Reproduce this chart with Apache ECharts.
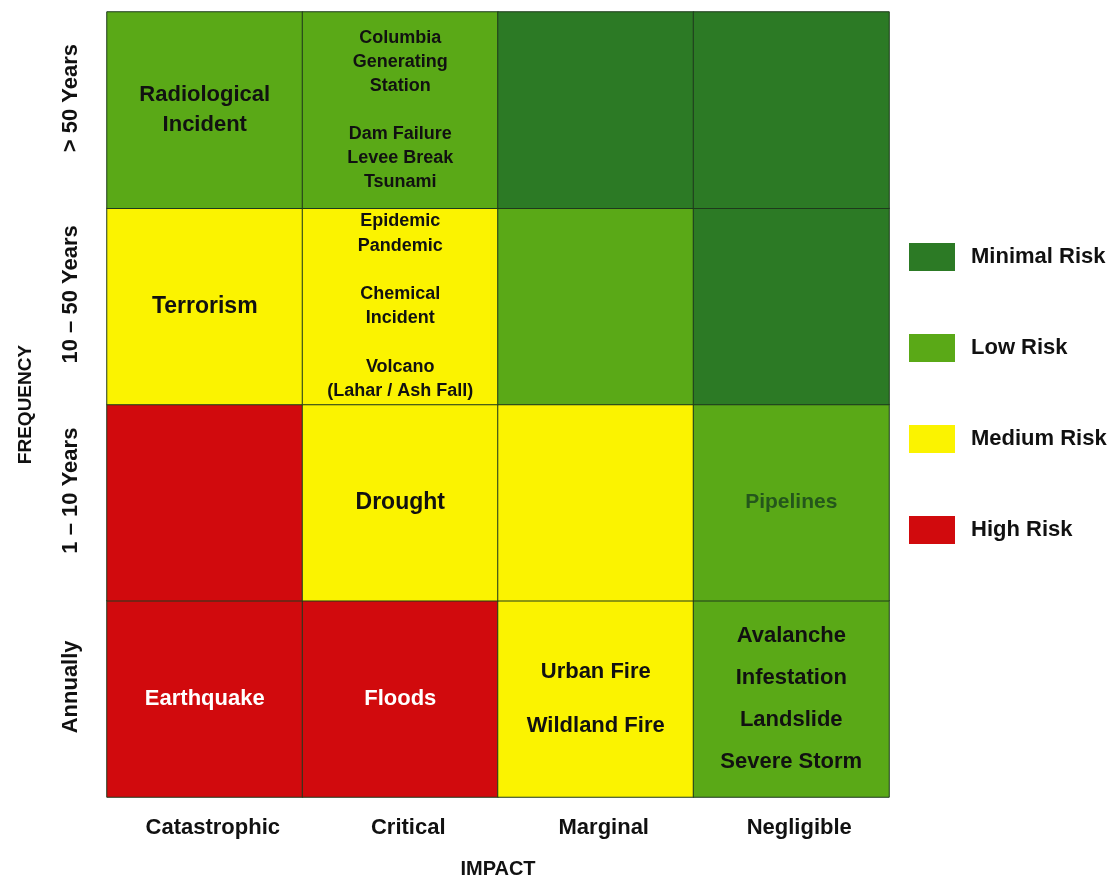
<!DOCTYPE html>
<html>
<head>
<meta charset="utf-8">
<script src="https://cdn.jsdelivr.net/npm/echarts@6/dist/echarts.min.js"></script>
<style>
html,body{margin:0;padding:0;background:#fff;}
#chart{width:1120px;height:878px;}
</style>
</head>
<body>
<div id="chart"></div>
<script>
// ---- Data ----
const impacts = ['Catastrophic', 'Critical', 'Marginal', 'Negligible'];
const frequencies = ['Annually', '1 – 10 Years', '10 – 50 Years', '> 50 Years'];
const riskLevels = ['Minimal Risk', 'Low Risk', 'Medium Risk', 'High Risk'];
const riskColors = ['#2c7a25', '#5aa917', '#fbf300', '#d10a0d'];

// risk level index per impact column, one array per frequency row
const riskAnnually = [3, 3, 2, 1];
const risk1to10 = [3, 2, 2, 1];
const risk10to50 = [2, 2, 1, 0];
const risk50plus = [1, 1, 0, 0];

const textAnnually = ['Earthquake', 'Floods', 'Urban Fire\nWildland Fire', 'Avalanche\nInfestation\nLandslide\nSevere Storm'];
const text1to10 = ['', 'Drought', '', 'Pipelines'];
const text10to50 = ['Terrorism', 'Epidemic\nPandemic\n\nChemical\nIncident\n\nVolcano\n(Lahar / Ash Fall)', '', ''];
const text50plus = ['Radiological\nIncident', 'Columbia\nGenerating\nStation\n\nDam Failure\nLevee Break\nTsunami', '', ''];

// ---- Styles (not data) ----
const FONT = 'Liberation Sans';
const cellStyles = {
  '0,0': {fontSize: 22, color: '#ffffff'},
  '1,0': {fontSize: 22, color: '#ffffff'},
  '2,0': {fontSize: 22, lineHeight: 54, color: '#111'},
  '3,0': {fontSize: 22, lineHeight: 42, color: '#111'},
  '1,1': {fontSize: 23, color: '#111'},
  '3,1': {fontSize: 21, color: '#24561c'},
  '0,2': {fontSize: 23, color: '#111'},
  '1,2': {fontSize: 18, lineHeight: 24.3, color: '#111', padding: [4, 0, 0, 0]},
  '0,3': {fontSize: 22, lineHeight: 30, color: '#111', padding: [6, 0, 0, 0]},
  '1,3': {fontSize: 18, lineHeight: 24, color: '#111', padding: [4, 0, 0, 0]}
};

const riskRows = [riskAnnually, risk1to10, risk10to50, risk50plus];
const textRows = [textAnnually, text1to10, text10to50, text50plus];

const data = [];
riskRows.forEach((row, y) => {
  row.forEach((lvl, x) => {
    const st = cellStyles[x + ',' + y] || {fontSize: 20, color: '#111'};
    data.push({
      value: [x, y, lvl],
      label: Object.assign({fontFamily: FONT, fontWeight: 'bold'}, st),
      text: textRows[y][x]
    });
  });
});

const chart = echarts.init(document.getElementById('chart'));
chart.setOption({
  backgroundColor: '#ffffff',
  animation: false,
  grid: {left: 107, right: 231, top: 12, bottom: 81, outerBoundsMode: 'none', containLabel: false},
  xAxis: {
    type: 'category',
    data: impacts,
    name: 'IMPACT',
    nameLocation: 'middle',
    nameGap: 62,
    nameTextStyle: {fontFamily: FONT, fontWeight: 'bold', fontSize: 20, color: '#111'},
    axisLine: {show: false},
    axisTick: {show: false},
    splitLine: {show: false},
    axisLabel: {fontFamily: FONT, fontWeight: 'bold', fontSize: 22, color: '#111', margin: 20, padding: [0, 0, 0, 16]}
  },
  yAxis: {
    type: 'category',
    data: frequencies,
    name: 'FREQUENCY',
    nameLocation: 'middle',
    nameGap: 72,
    nameTextStyle: {fontFamily: FONT, fontWeight: 'bold', fontSize: 19, color: '#111'},
    axisLine: {show: false},
    axisTick: {show: false},
    splitLine: {show: false},
    axisLabel: {fontFamily: FONT, fontWeight: 'bold', fontSize: 22, color: '#111', rotate: 90, margin: 25, padding: [0, 0, 0, 24]}
  },
  visualMap: {
    type: 'piecewise',
    dimension: 2,
    orient: 'vertical',
    inverse: true,
    align: 'left',
    left: 894,
    top: 228,
    itemWidth: 46,
    itemHeight: 28,
    itemGap: 63,
    textGap: 16,
    itemSymbol: 'rect',
    selectedMode: false,
    textStyle: {fontFamily: FONT, fontWeight: 'bold', fontSize: 22, color: '#111'},
    pieces: riskLevels.map((name, i) => ({value: i, label: name, color: riskColors[i]}))
  },
  series: [{
    type: 'heatmap',
    data: data,
    itemStyle: {borderColor: '#1e3a1c', borderWidth: 1},
    label: {
      show: true,
      formatter: p => p.data.text
    },
    emphasis: {disabled: true}
  }]
});
</script>
</body>
</html>
